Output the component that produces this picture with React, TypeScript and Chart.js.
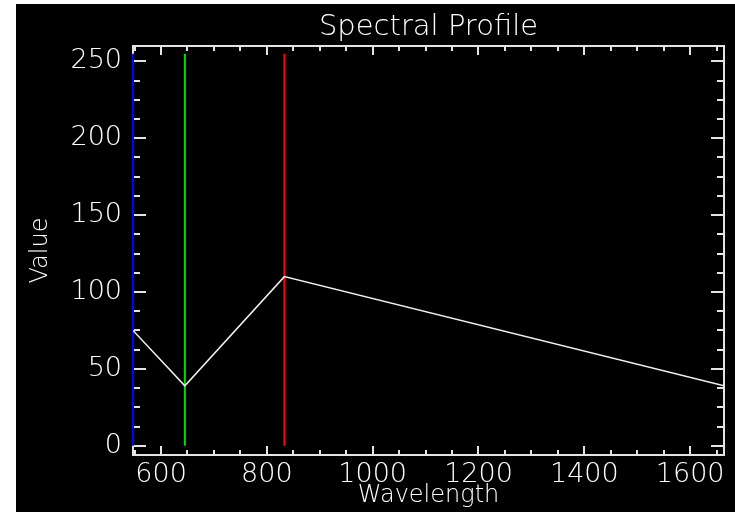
import React, { useEffect, useRef } from 'react';
import Chart from 'chart.js/auto';

// ---- data ----
const profileWavelengths = [547, 645, 833, 1664];
const profileValues = [75, 39, 110, 39];

const markerWavelengths = [547, 645, 833];
const markerRange = [0, 255];

const xTickValues = [600, 800, 1000, 1200, 1400, 1600];
const yTickValues = [0, 50, 100, 150, 200, 250];

const xRange = [547, 1664];
const yRange = [-6, 260];

const titleText = 'Spectral Profile';
const xTitleText = 'Wavelength';
const yTitleText = 'Value';

// ---- styles ----
const markerColors = ['#0000ff', '#00e000', '#ff0000'];
const fg = '#ffffff';
const axisColor = '#e4e4e4';
const FONT = '"DejaVu Sans", sans-serif';
const W = '200';

const framePlugin = {
  id: 'idlFrame',
  beforeDatasetsDraw(chart: any) {
    const { ctx, chartArea, scales } = chart;
    const { left, right, top, bottom } = chartArea;
    const x = scales.x;
    const y = scales.y;
    ctx.save();
    ctx.strokeStyle = axisColor;
    ctx.lineWidth = 2;
    ctx.strokeRect(left, top, right - left, bottom - top);
    ctx.beginPath();
    for (let v = Math.ceil(xRange[0] / 50) * 50; v <= xRange[1]; v += 50) {
      const px = Math.round(x.getPixelForValue(v));
      const len = v % 200 === 0 ? 9 : 5;
      ctx.moveTo(px, bottom);
      ctx.lineTo(px, bottom - len);
      ctx.moveTo(px, top);
      ctx.lineTo(px, top + len);
    }
    for (let v = 0; v <= yRange[1]; v += 12.5) {
      const py = Math.round(y.getPixelForValue(v));
      const len = v % 50 === 0 ? 13 : 7;
      ctx.moveTo(left, py);
      ctx.lineTo(left + len, py);
      ctx.moveTo(right, py);
      ctx.lineTo(right - len, py);
    }
    ctx.stroke();
    ctx.restore();
  },
};

export default function App() {
  const ref = useRef<HTMLCanvasElement | null>(null);

  useEffect(() => {
    if (!ref.current) return;
    const markerSets = markerWavelengths.map((w, i) => ({
      data: markerRange.map((v) => ({ x: w, y: v })),
      borderColor: markerColors[i],
      borderWidth: 2,
      pointRadius: 0,
      clip: false as any,
    }));
    const chart = new Chart(ref.current, {
      type: 'line',
      data: {
        datasets: [
          {
            data: profileWavelengths.map((w, i) => ({ x: w, y: profileValues[i] })),
            borderColor: '#f0f0f0',
            borderWidth: 1.5,
            pointRadius: 0,
          },
          ...markerSets,
        ],
      },
      options: {
        animation: false,
        responsive: false,
        devicePixelRatio: 1,
        layout: { padding: { left: 0, right: 11, top: 0, bottom: 0 } },
        plugins: {
          legend: { display: false },
          tooltip: { enabled: false },
          title: {
            display: true,
            text: titleText,
            color: fg,
            fullSize: false,
            font: { family: FONT, size: 29, weight: W as any, lineHeight: 1.2 },
            padding: { top: 6, bottom: 1.2 },
          },
        },
        scales: {
          x: {
            type: 'linear',
            min: xRange[0],
            max: xRange[1],
            grid: { display: false, drawTicks: false },
            border: { display: false },
            afterBuildTicks: (s: any) => {
              s.ticks = xTickValues.map((v) => ({ value: v }));
            },
            afterFit: (s: any) => {
              s.height = 57;
            },
            ticks: {
              color: fg,
              padding: 4,
              maxRotation: 0,
              autoSkip: false,
              font: { family: FONT, size: 27, weight: W as any },
              callback: (v: any) => String(v),
            },
            title: {
              display: true,
              text: xTitleText,
              color: fg,
              font: { family: FONT, size: 24, weight: W as any },
              padding: { top: 0, bottom: 2 },
            },
          },
          y: {
            type: 'linear',
            min: yRange[0],
            max: yRange[1],
            grid: { display: false, drawTicks: false },
            border: { display: false },
            afterBuildTicks: (s: any) => {
              s.ticks = yTickValues.map((v) => ({ value: v }));
            },
            afterFit: (s: any) => {
              s.width = 117;
            },
            ticks: {
              color: fg,
              padding: 11,
              autoSkip: false,
              font: { family: FONT, size: 27, weight: W as any },
              callback: (v: any) => String(v),
            },
            title: {
              display: true,
              text: yTitleText,
              color: fg,
              font: { family: FONT, size: 24, weight: W as any },
              padding: { top: 10, bottom: 0 },
            },
          },
        },
      },
      plugins: [framePlugin],
    });
    return () => chart.destroy();
  }, []);

  return (
    <div
      style={{
        position: 'absolute',
        left: 16,
        top: 4,
        width: 719,
        height: 508,
        background: '#000',
      }}
    >
      <canvas ref={ref} width={719} height={508} style={{ display: 'block' }} />
    </div>
  );
}
